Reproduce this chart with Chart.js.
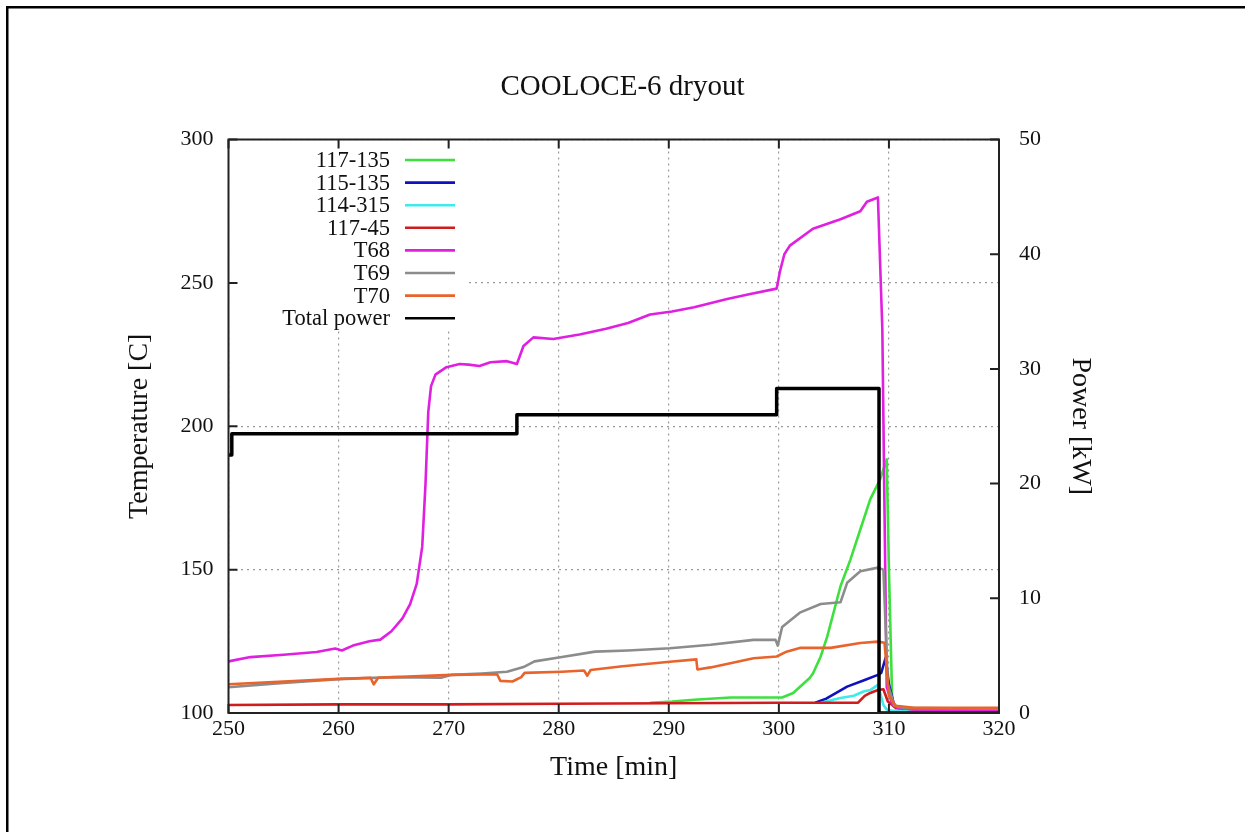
<!DOCTYPE html>
<html>
<head>
<meta charset="utf-8">
<script src="https://cdn.jsdelivr.net/npm/chart.js@4.4.0/dist/chart.umd.min.js"></script>
<style>
html, body { margin: 0; padding: 0; background: #fff; }
</style>
</head>
<body>
<canvas id="myChart" width="1245" height="832"></canvas>
<script>
const fonte = "'Liberation Serif', 'Times New Roman', serif"

const xTicks = [250, 260, 270, 280, 290, 300, 310, 320]
const yTicks = [100, 150, 200, 250, 300]
const y2Ticks = [0, 10, 20, 30, 40, 50]

const nomes = ['117-135', '115-135', '114-315', '117-45', 'T68', 'T69', 'T70', 'Total power']
const cores = ['#3ee03e', '#1010c0', '#3eeaea', '#d01c1c', '#e020e0', '#8c8c8c', '#e8642c', '#000000']

const tempoG = [288.3, 290.3, 292.3, 295.6, 300.3, 301.3, 302.8, 303.1, 303.8, 304.4, 305.6, 306.5, 307.4, 308.3, 309.2, 309.8, 310.0, 310.3, 310.8, 312.3, 320]
const tempG = [103.6, 104.0, 104.6, 105.4, 105.4, 107.0, 112.2, 113.8, 119.7, 126.7, 144.2, 153.5, 164.0, 174.5, 181.5, 188.5, 150.0, 104.0, 101.8, 101.3, 101.3]

const tempoB = [303.3, 304.3, 306.2, 307.8, 309.0, 309.3, 309.7, 310.0, 310.5, 312.3, 320]
const tempB = [103.6, 105.0, 109.2, 111.5, 113.3, 114.0, 119.2, 110.0, 102.3, 101.5, 101.3]

const tempoC = [303.8, 305.6, 306.8, 307.7, 308.3, 309.0, 309.5, 309.8, 310.3, 312.3, 320]
const tempC = [103.6, 105.2, 106.0, 107.5, 108.0, 109.8, 102.8, 101.2, 100.8, 101.0, 101.2]

const tempoR = [250, 260, 270, 280, 290, 300, 307.2, 307.8, 308.3, 309.0, 309.5, 309.9, 310.6, 312.3, 320]
const tempR = [102.8, 103.0, 103.0, 103.2, 103.4, 103.6, 103.6, 106.0, 107.0, 108.0, 108.3, 104.0, 101.8, 101.3, 101.3]

const tempo68 = [250, 252, 255, 258, 259.7, 260.3, 261.3, 262.8, 263.8, 264.8, 265.8, 266.5, 267.1, 267.6, 267.9, 268.15, 268.4, 268.8, 269.8, 271, 271.8, 272.8, 273.8, 275.3, 276.2, 276.8, 277.7, 279.5, 281.9, 284.3, 286.3, 288.3, 290.3, 292.3, 295.3, 297.3, 299.8, 300.1, 300.5, 301, 303.1, 305.6, 307.4, 308, 309, 309.4, 309.6, 309.8, 310.3, 310.8, 312.3, 320]
const temp68 = [118, 119.5, 120.3, 121.3, 122.5, 121.8, 123.5, 125, 125.6, 128.5, 133, 138, 145, 158, 180, 205, 214, 218, 220.6, 221.7, 221.5, 221, 222.3, 222.7, 221.7, 228, 231, 230.4, 232, 234, 236, 239, 240, 241.5, 244.4, 246, 248, 254, 260, 263, 268.9, 272.2, 275, 278.3, 279.8, 234, 170, 109, 103, 101.8, 101.2, 101]

const tempo69 = [250, 255, 260, 265, 269.3, 270.3, 273, 275.3, 276.8, 277.8, 280.3, 283.3, 286.3, 290.1, 293.8, 297.7, 299.7, 299.9, 300.3, 301.9, 303.8, 305.6, 306.2, 307.4, 309, 309.5, 309.9, 310.5, 311.3, 320]
const temp69 = [109, 110.5, 111.8, 112.5, 112.3, 113.3, 113.8, 114.4, 116, 118, 119.5, 121.4, 121.8, 122.6, 123.8, 125.5, 125.5, 123.5, 130, 135, 138, 138.6, 145.4, 149.4, 150.7, 150, 110, 102.5, 101.8, 101.5]

const tempo70 = [250, 255, 260, 262.9, 263.2, 263.6, 266.3, 270.3, 274.4, 274.7, 275.8, 276.6, 276.9, 280.3, 282.3, 282.6, 282.9, 285.6, 290.1, 292.5, 292.6, 293.8, 297.7, 299.8, 300.7, 301.9, 304.7, 307.4, 309, 309.6, 310, 310.6, 312.3, 320]
const temp70 = [110, 111, 111.9, 112.3, 110, 112.3, 112.7, 113.3, 113.5, 111.2, 111, 112.5, 114, 114.4, 114.8, 113, 115, 116.2, 117.9, 118.7, 115.2, 115.9, 119.1, 119.7, 121.4, 122.7, 122.7, 124.4, 124.9, 124.5, 106, 102.5, 101.8, 101.8]

const tempoPot = [250, 250.3, 276.2, 299.8, 309.1, 320]
const potencia = [22.5, 24.35, 26.0, 28.3, 0, 0]

function pontos(xs, ys) {
    let p = []
    for (let i = 0; i < xs.length; i++) {
        p.push({ x: xs[i], y: ys[i] })
    }
    return p
}

const series = [
    pontos(tempoG, tempG),
    pontos(tempoB, tempB),
    pontos(tempoC, tempC),
    pontos(tempoR, tempR),
    pontos(tempo68, temp68),
    pontos(tempo69, temp69),
    pontos(tempo70, temp70),
    pontos(tempoPot, potencia)
]

let datasets = []
for (let i = 0; i < nomes.length; i++) {
    const ehPotencia = i == nomes.length - 1
    datasets.push({
        label: nomes[i],
        data: series[i],
        borderColor: cores[i],
        backgroundColor: cores[i],
        borderWidth: ehPotencia ? 3.5 : 2.6,
        pointRadius: 0,
        tension: 0,
        stepped: ehPotencia ? 'before' : false,
        yAxisID: ehPotencia ? 'y2' : 'y',
        order: nomes.length - 1 - i,
        borderJoinStyle: 'round'
    })
}

const moldura = {
    id: 'moldura',
    beforeDraw(chart) {
        const ctx = chart.ctx
        ctx.save()
        ctx.fillStyle = '#fff'
        ctx.fillRect(0, 0, chart.width, chart.height)
        ctx.fillStyle = '#000'
        ctx.fillRect(6, 6, chart.width - 6, 2.5)
        ctx.fillRect(6, 6, 2.5, chart.height - 6)
        ctx.restore()
    },
    beforeDatasetsDraw(chart) {
        const ctx = chart.ctx
        const a = chart.chartArea
        ctx.save()
        ctx.fillStyle = '#fff'
        ctx.fillRect(a.left + 1, a.top + 1, 237, 190)
        ctx.restore()
    },
    afterDraw(chart) {
        const ctx = chart.ctx
        const a = chart.chartArea
        const sx = chart.scales.x
        const sy = chart.scales.y
        const sy2 = chart.scales.y2
        ctx.save()
        ctx.strokeStyle = '#222'
        ctx.lineWidth = 2
        ctx.strokeRect(a.left, a.top, a.right - a.left, a.bottom - a.top)
        ctx.beginPath()
        for (const v of xTicks) {
            const px = sx.getPixelForValue(v)
            ctx.moveTo(px, a.bottom)
            ctx.lineTo(px, a.bottom - 9)
            ctx.moveTo(px, a.top)
            ctx.lineTo(px, a.top + 9)
        }
        for (const v of yTicks) {
            const py = sy.getPixelForValue(v)
            ctx.moveTo(a.left, py)
            ctx.lineTo(a.left + 9, py)
        }
        for (const v of y2Ticks) {
            const py = sy2.getPixelForValue(v)
            ctx.moveTo(a.right, py)
            ctx.lineTo(a.right - 9, py)
        }
        ctx.stroke()

        ctx.font = '22.5px ' + fonte
        ctx.textAlign = 'right'
        ctx.textBaseline = 'middle'
        const ds = chart.data.datasets
        for (let i = 0; i < ds.length; i++) {
            const y = a.top + 20.5 + i * 22.6
            ctx.fillStyle = '#111'
            ctx.fillText(ds[i].label, a.left + 161.5, y + 1)
            ctx.strokeStyle = ds[i].borderColor
            ctx.lineWidth = 2.6
            ctx.beginPath()
            ctx.moveTo(a.left + 176.5, y)
            ctx.lineTo(a.left + 226.5, y)
            ctx.stroke()
        }
        ctx.restore()
    }
}

const grade = {
    color: '#9a9a9a',
    lineWidth: 1.2,
    drawTicks: false
}

const config = {
    type: 'line',
    data: { datasets: datasets },
    options: {
        responsive: false,
        animation: false,
        devicePixelRatio: 1,
        layout: { padding: 0 },
        plugins: {
            legend: { display: false },
            tooltip: { enabled: false },
            title: {
                display: true,
                text: 'COOLOCE-6 dryout',
                color: '#111',
                font: { family: fonte, size: 29, weight: 'normal', lineHeight: 1.2 },
                padding: { top: 69.6, bottom: 35.1 }
            }
        },
        scales: {
            x: {
                type: 'linear',
                min: 250,
                max: 320,
                afterFit: (s) => { s.height = 119 },
                afterBuildTicks: (s) => { s.ticks = xTicks.map(v => ({ value: v })) },
                grid: grade,
                border: { display: false, dash: [2, 4] },
                ticks: { color: '#111', padding: 3, maxRotation: 0, font: { family: fonte, size: 22 } },
                title: {
                    display: true,
                    text: 'Time [min]',
                    color: '#111',
                    font: { family: fonte, size: 28, lineHeight: 1.2 },
                    padding: { top: 0, bottom: 47.2 }
                }
            },
            y: {
                position: 'left',
                min: 100,
                max: 300,
                afterFit: (s) => { s.width = 228.5 },
                afterBuildTicks: (s) => { s.ticks = yTicks.map(v => ({ value: v })) },
                grid: grade,
                border: { display: false, dash: [2, 4] },
                ticks: { color: '#111', padding: 15, font: { family: fonte, size: 22 } },
                title: {
                    display: true,
                    text: 'Temperature [C]',
                    color: '#111',
                    font: { family: fonte, size: 28, lineHeight: 1.2 },
                    padding: { top: 123.2, bottom: 0 }
                }
            },
            y2: {
                position: 'right',
                min: 0,
                max: 50,
                afterFit: (s) => { s.width = 246 },
                afterBuildTicks: (s) => { s.ticks = y2Ticks.map(v => ({ value: v })) },
                grid: { display: false, drawTicks: false },
                border: { display: false },
                ticks: { color: '#111', padding: 20, font: { family: fonte, size: 22 } },
                title: {
                    display: true,
                    text: 'Power [kW]',
                    color: '#111',
                    font: { family: fonte, size: 28, lineHeight: 1.2 },
                    padding: { top: 148.2, bottom: 0 }
                }
            }
        }
    },
    plugins: [moldura]
}

const myChart = new Chart(document.getElementById('myChart').getContext('2d'), config)
</script>
</body>
</html>
